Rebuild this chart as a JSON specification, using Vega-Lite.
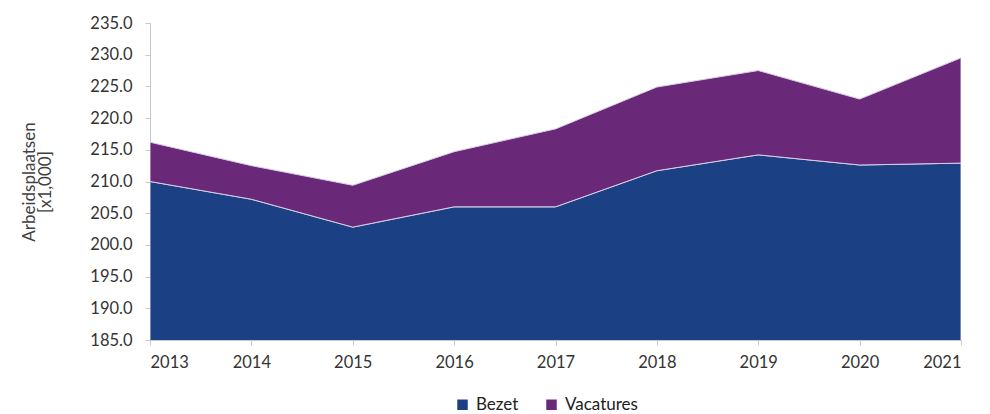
{
  "$schema": "https://vega.github.io/schema/vega-lite/v6.json",
  "width": 811,
  "height": 317,
  "autosize": "none",
  "padding": {"left": 150, "top": 23, "right": 29, "bottom": 74},
  "background": "white",
  "config": {
    "view": {"stroke": null},
    "font": "Lato",
    "axis": {"labelFont": "Lato", "titleFont": "Lato", "labelColor": "#333333", "titleColor": "#404040", "domainColor": "#c8c8c8", "tickColor": "#c8c8c8", "labelFontSize": 16.5, "titleFontWeight": "normal", "titleFontSize": 17, "grid": false, "labelOverlap": false}
  },
  "data": {
    "values": [
      {"year": 2013, "serie": "Bezet", "value": 210.0, "order": 1},
      {"year": 2014, "serie": "Bezet", "value": 207.2, "order": 1},
      {"year": 2015, "serie": "Bezet", "value": 202.8, "order": 1},
      {"year": 2016, "serie": "Bezet", "value": 206.0, "order": 1},
      {"year": 2017, "serie": "Bezet", "value": 206.0, "order": 1},
      {"year": 2018, "serie": "Bezet", "value": 211.7, "order": 1},
      {"year": 2019, "serie": "Bezet", "value": 214.2, "order": 1},
      {"year": 2020, "serie": "Bezet", "value": 212.6, "order": 1},
      {"year": 2021, "serie": "Bezet", "value": 212.9, "order": 1},
      {"year": 2013, "serie": "Vacatures", "value": 6.2, "order": 2},
      {"year": 2014, "serie": "Vacatures", "value": 5.3, "order": 2},
      {"year": 2015, "serie": "Vacatures", "value": 6.6, "order": 2},
      {"year": 2016, "serie": "Vacatures", "value": 8.7, "order": 2},
      {"year": 2017, "serie": "Vacatures", "value": 12.3, "order": 2},
      {"year": 2018, "serie": "Vacatures", "value": 13.2, "order": 2},
      {"year": 2019, "serie": "Vacatures", "value": 13.3, "order": 2},
      {"year": 2020, "serie": "Vacatures", "value": 10.4, "order": 2},
      {"year": 2021, "serie": "Vacatures", "value": 16.6, "order": 2}
    ]
  },
  "mark": {"type": "area", "clip": true, "stroke": "#d8d0e8", "strokeWidth": 1},
  "encoding": {
    "x": {
      "field": "year", "type": "quantitative",
      "scale": {"domain": [2013, 2021], "nice": false, "zero": false},
      "axis": {"title": null, "format": "d", "values": [2013, 2014, 2015, 2016, 2017, 2018, 2019, 2020, 2021], "tickSize": 5, "labelPadding": 9}
    },
    "y": {
      "field": "value", "type": "quantitative", "stack": "zero",
      "scale": {"domain": [185, 235], "nice": false, "zero": false},
      "axis": {"title": ["Arbeidsplaatsen", "[x1,000]"], "format": ".1f", "values": [185, 190, 195, 200, 205, 210, 215, 220, 225, 230, 235], "tickSize": 5, "labelPadding": 13, "titlePadding": 35, "titleLineHeight": 16}
    },
    "color": {
      "field": "serie", "type": "nominal",
      "scale": {"domain": ["Bezet", "Vacatures"], "range": ["#1b4084", "#6a2879"]},
      "legend": {"title": null, "orient": "none", "legendX": 304, "legendY": 373, "direction": "horizontal", "symbolType": "square", "symbolSize": 110, "symbolStrokeWidth": 0, "labelFontSize": 17, "labelColor": "#222222", "labelFont": "Lato", "columnPadding": 24, "labelOffset": 5}
    },
    "order": {"field": "order", "type": "quantitative"}
  }
}
